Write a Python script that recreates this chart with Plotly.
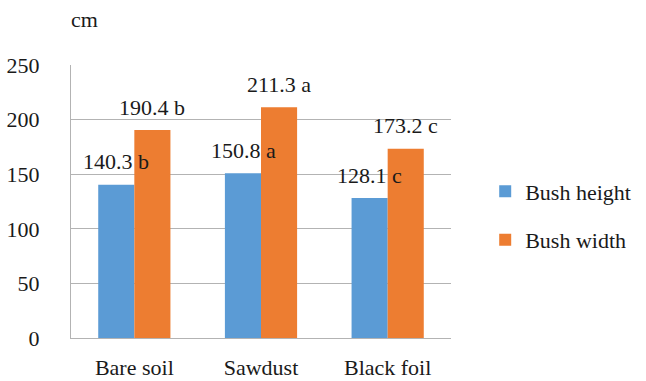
import plotly.graph_objects as go

categories = ["Bare soil", "Sawdust", "Black foil"]
bush_height = [140.3, 150.8, 128.1]
bush_width = [190.4, 211.3, 173.2]
height_letters = ["b", "a", "c"]
width_letters = ["b", "a", "c"]
y_ticks = [0, 50, 100, 150, 200, 250]

BLUE = "#5B9BD5"
ORANGE = "#ED7D31"
FONT = "Times New Roman, Times, Liberation Serif, DejaVu Serif, serif"
GRID = "#B3B3B3"
TEXT = "#1a1a1a"

L, R, T, B = 71, 195, 65, 43
W, H = 646, 381

fig = go.Figure()
fig.add_trace(go.Bar(name="Bush height", x=categories, y=bush_height,
                     marker=dict(color=BLUE, line=dict(width=0)),
                     legendgroup="h"))
fig.add_trace(go.Bar(name="Bush width", x=categories, y=bush_width,
                     marker=dict(color=ORANGE, line=dict(width=0)),
                     legendgroup="w"))

label_font = dict(family=FONT, size=22, color=TEXT)

# value labels with significance letters above each bar
annotations = []
for cat, v, l in zip(categories, bush_height, height_letters):
    annotations.append(dict(x=cat, y=v, xref="x", yref="y", text=f"{v:.1f} {l}",
                            showarrow=False, xshift=-18, yshift=23,
                            yanchor="middle", font=label_font))
for cat, v, l in zip(categories, bush_width, width_letters):
    annotations.append(dict(x=cat, y=v, xref="x", yref="y", text=f"{v:.1f} {l}",
                            showarrow=False, xshift=18, yshift=23,
                            yanchor="middle", font=label_font))
# axis unit label in the top-left corner
annotations.append(dict(x=(69 - L) / (W - L - R), y=1 + (T - 20) / (H - T - B),
                        xref="paper", yref="paper", text="cm",
                        showarrow=False, xanchor="left", yanchor="middle",
                        font=label_font))

fig.update_layout(
    width=W, height=H,
    margin=dict(l=L, r=R, t=T, b=B, autoexpand=False),
    paper_bgcolor="white", plot_bgcolor="white",
    font=label_font,
    barmode="group", bargap=0.43, bargroupgap=0,
    showlegend=True,
    legend=dict(x=1.09, y=0.447, xanchor="left", yanchor="middle",
                traceorder="grouped", tracegroupgap=17,
                font=label_font, itemwidth=30),
    annotations=annotations,
    xaxis=dict(showgrid=False, showline=True, linecolor=GRID, linewidth=1,
               ticks="", ticklabelstandoff=10, automargin=False,
               tickfont=label_font),
    yaxis=dict(range=[0, 250], tickvals=y_ticks, showgrid=True, gridcolor=GRID,
               gridwidth=1, showline=True, linecolor=GRID, linewidth=1,
               zeroline=False, ticks="", ticklabelstandoff=26, automargin=False,
               tickfont=label_font),
)

fig.write_html("out.html")
